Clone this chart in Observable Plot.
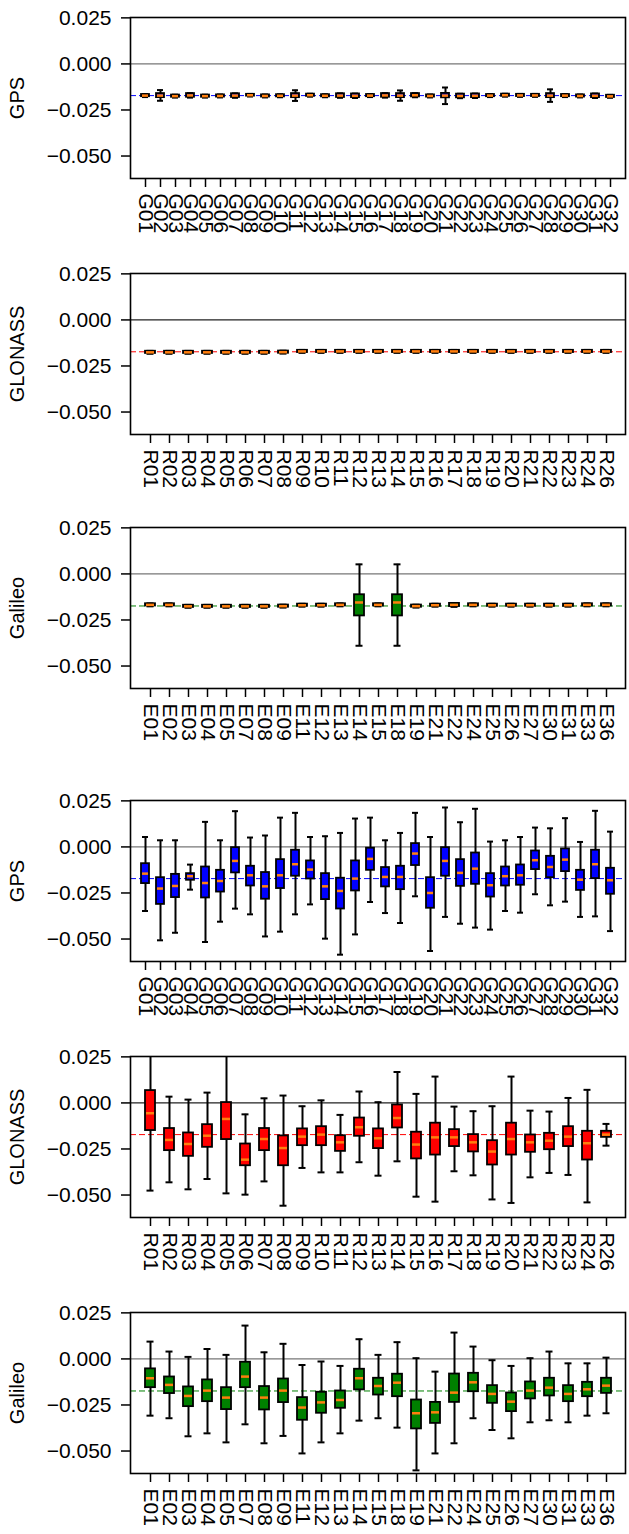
<!DOCTYPE html>
<html><head><meta charset="utf-8">
<script src="https://cdn.jsdelivr.net/npm/d3@7"></script>
<script src="https://cdn.jsdelivr.net/npm/@observablehq/plot@0.6"></script>
<style>
body{margin:0;background:#fff;overflow:hidden;}
#wrap{position:relative;width:629px;height:1534px;}
#wrap svg{position:absolute;left:0;}
</style></head><body><div id="wrap"></div>
<script>
// ---- categories ----
const satsGPS = ["G01","G02","G03","G04","G05","G06","G07","G08","G09","G10","G11","G12","G13","G14","G15","G16","G17","G18","G19","G20","G21","G22","G23","G24","G25","G26","G27","G28","G29","G30","G31","G32"];
const satsGLO = ["R01","R02","R03","R04","R05","R06","R07","R08","R09","R10","R11","R12","R13","R14","R15","R16","R17","R18","R19","R20","R21","R22","R23","R24","R26"];
const satsGAL = ["E01","E02","E03","E04","E05","E07","E08","E09","E11","E12","E13","E14","E15","E18","E19","E21","E22","E24","E25","E26","E27","E30","E31","E33","E36"];

// ---- panel 1: GPS (top group) ----
const p1Med = [-0.0172,-0.0172,-0.0175,-0.0171,-0.0175,-0.0174,-0.0172,-0.0170,-0.0174,-0.0173,-0.0172,-0.0170,-0.0173,-0.0172,-0.0173,-0.0172,-0.0171,-0.0172,-0.0170,-0.0174,-0.0172,-0.0174,-0.0173,-0.0172,-0.0170,-0.0171,-0.0171,-0.0172,-0.0172,-0.0174,-0.0173,-0.0176];
const p1Q3  = [-0.0166,-0.0161,-0.0169,-0.0161,-0.0169,-0.0168,-0.0162,-0.0165,-0.0168,-0.0167,-0.0161,-0.0164,-0.0167,-0.0162,-0.0163,-0.0166,-0.0161,-0.0161,-0.0161,-0.0168,-0.0160,-0.0164,-0.0163,-0.0166,-0.0164,-0.0165,-0.0165,-0.0161,-0.0166,-0.0168,-0.0163,-0.0170];
const p1Q1  = [-0.0178,-0.0183,-0.0181,-0.0181,-0.0181,-0.0180,-0.0182,-0.0175,-0.0180,-0.0179,-0.0183,-0.0176,-0.0179,-0.0182,-0.0183,-0.0178,-0.0181,-0.0183,-0.0179,-0.0180,-0.0184,-0.0184,-0.0183,-0.0178,-0.0176,-0.0177,-0.0177,-0.0183,-0.0178,-0.0180,-0.0183,-0.0182];
const p1Hi  = [-0.0164,-0.0142,-0.0167,-0.0159,-0.0167,-0.0166,-0.0160,-0.0163,-0.0166,-0.0165,-0.0143,-0.0162,-0.0165,-0.0160,-0.0161,-0.0164,-0.0159,-0.0144,-0.0159,-0.0166,-0.0128,-0.0162,-0.0161,-0.0164,-0.0162,-0.0163,-0.0163,-0.0138,-0.0164,-0.0166,-0.0161,-0.0168];
const p1Lo  = [-0.0180,-0.0200,-0.0183,-0.0183,-0.0183,-0.0182,-0.0184,-0.0177,-0.0182,-0.0181,-0.0201,-0.0178,-0.0181,-0.0184,-0.0185,-0.0180,-0.0183,-0.0200,-0.0181,-0.0182,-0.0218,-0.0186,-0.0185,-0.0180,-0.0178,-0.0179,-0.0179,-0.0206,-0.0180,-0.0182,-0.0185,-0.0184];

// ---- panel 2: GLONASS (top group) ----
const p2Med = [-0.0176,-0.0176,-0.0176,-0.0176,-0.0176,-0.0176,-0.0176,-0.0175,-0.0171,-0.0171,-0.0171,-0.0171,-0.0171,-0.0171,-0.0171,-0.0171,-0.0171,-0.0171,-0.0171,-0.0171,-0.0171,-0.0171,-0.0171,-0.0171,-0.0171];
const p2Q3  = [-0.0170,-0.0170,-0.0170,-0.0170,-0.0170,-0.0170,-0.0170,-0.0169,-0.0165,-0.0165,-0.0165,-0.0165,-0.0165,-0.0165,-0.0165,-0.0165,-0.0165,-0.0165,-0.0165,-0.0165,-0.0165,-0.0165,-0.0165,-0.0165,-0.0165];
const p2Q1  = [-0.0182,-0.0182,-0.0182,-0.0182,-0.0182,-0.0182,-0.0182,-0.0181,-0.0177,-0.0177,-0.0177,-0.0177,-0.0177,-0.0177,-0.0177,-0.0177,-0.0177,-0.0177,-0.0177,-0.0177,-0.0177,-0.0177,-0.0177,-0.0177,-0.0177];
const p2Hi  = [-0.0168,-0.0168,-0.0168,-0.0168,-0.0168,-0.0168,-0.0168,-0.0167,-0.0163,-0.0163,-0.0163,-0.0163,-0.0163,-0.0163,-0.0163,-0.0163,-0.0163,-0.0163,-0.0163,-0.0163,-0.0163,-0.0163,-0.0163,-0.0163,-0.0163];
const p2Lo  = [-0.0184,-0.0184,-0.0184,-0.0184,-0.0184,-0.0184,-0.0184,-0.0183,-0.0179,-0.0179,-0.0179,-0.0179,-0.0179,-0.0179,-0.0179,-0.0179,-0.0179,-0.0179,-0.0179,-0.0179,-0.0179,-0.0179,-0.0179,-0.0179,-0.0179];

// ---- panel 3: Galileo (top group) ----
const p3Med = [-0.0168,-0.0168,-0.0176,-0.0176,-0.0176,-0.0176,-0.0176,-0.0175,-0.0170,-0.0170,-0.0168,-0.0155,-0.0168,-0.0155,-0.0175,-0.0170,-0.0168,-0.0168,-0.0170,-0.0170,-0.0170,-0.0170,-0.0170,-0.0168,-0.0168];
const p3Q3  = [-0.0162,-0.0162,-0.0170,-0.0170,-0.0170,-0.0170,-0.0170,-0.0169,-0.0164,-0.0164,-0.0162,-0.0113,-0.0162,-0.0113,-0.0169,-0.0164,-0.0160,-0.0162,-0.0164,-0.0164,-0.0164,-0.0164,-0.0164,-0.0162,-0.0162];
const p3Q1  = [-0.0174,-0.0174,-0.0182,-0.0182,-0.0182,-0.0182,-0.0182,-0.0181,-0.0176,-0.0176,-0.0174,-0.0228,-0.0174,-0.0228,-0.0181,-0.0176,-0.0177,-0.0174,-0.0176,-0.0176,-0.0176,-0.0176,-0.0176,-0.0174,-0.0174];
const p3Hi  = [-0.0160,-0.0160,-0.0168,-0.0168,-0.0168,-0.0168,-0.0168,-0.0167,-0.0162,-0.0162,-0.0160, 0.0052,-0.0160, 0.0052,-0.0167,-0.0162,-0.0158,-0.0160,-0.0162,-0.0162,-0.0162,-0.0162,-0.0162,-0.0160,-0.0160];
const p3Lo  = [-0.0176,-0.0176,-0.0184,-0.0184,-0.0184,-0.0184,-0.0184,-0.0183,-0.0178,-0.0178,-0.0176,-0.0390,-0.0176,-0.0390,-0.0183,-0.0178,-0.0179,-0.0176,-0.0178,-0.0178,-0.0178,-0.0178,-0.0178,-0.0176,-0.0176];

// ---- panel 4: GPS (bottom group) ----
const p4Hi  = [0.0054,0.0036,0.0036,-0.0096,0.0136,0.0036,0.0194,0.0051,0.0062,0.0159,0.0185,0.0054,0.0058,0.0076,0.0154,0.0159,0.0036,0.0076,0.0185,0.0054,0.0214,0.0134,0.0207,0.0029,0.0036,0.0054,0.0105,0.0101,0.0156,0.0027,0.0196,0.0083];
const p4Q3  = [-0.0091,-0.0167,-0.0149,-0.0145,-0.0109,-0.0127,-0.0004,-0.0105,-0.0139,-0.0069,-0.0018,-0.0076,-0.0145,-0.0170,-0.0076,-0.0007,-0.0112,-0.0105,0.0018,-0.0167,-0.0004,-0.0069,-0.0033,-0.0145,-0.0109,-0.0098,-0.0022,-0.0051,-0.0011,-0.0127,-0.0018,-0.0116];
const p4Med = [-0.0145,-0.0226,-0.0212,-0.0159,-0.0196,-0.0185,-0.0076,-0.0154,-0.0214,-0.0154,-0.0094,-0.0123,-0.0214,-0.0239,-0.0172,-0.0065,-0.0163,-0.0163,-0.0036,-0.0250,-0.0076,-0.0141,-0.0118,-0.0208,-0.0159,-0.0154,-0.0072,-0.0109,-0.0069,-0.0178,-0.0094,-0.0181];
const p4Q1  = [-0.0199,-0.0312,-0.0275,-0.0181,-0.0277,-0.0245,-0.0141,-0.0212,-0.0284,-0.0226,-0.0159,-0.0174,-0.0286,-0.0337,-0.0239,-0.0127,-0.0217,-0.0232,-0.0101,-0.0333,-0.0159,-0.0214,-0.0203,-0.0272,-0.0212,-0.0208,-0.0123,-0.0167,-0.0134,-0.0236,-0.0172,-0.0257];
const p4Lo  = [-0.0348,-0.0507,-0.0466,-0.0232,-0.0516,-0.0406,-0.0335,-0.0366,-0.0486,-0.0460,-0.0366,-0.0312,-0.0498,-0.0585,-0.0475,-0.0299,-0.0359,-0.0413,-0.0268,-0.0565,-0.0380,-0.0417,-0.0438,-0.0449,-0.0348,-0.0357,-0.0257,-0.0317,-0.0297,-0.0380,-0.0377,-0.0457];

// ---- panel 5: GLONASS (bottom group) ----
const p5Hi  = [0.0300,0.0034,0.0018,0.0056,0.0300,-0.0062,0.0025,0.0040,-0.0018,0.0014,-0.0065,0.0062,0.0004,0.0168,0.0049,0.0143,-0.0020,-0.0045,-0.0018,0.0143,-0.0042,-0.0047,0.0027,0.0071,-0.0114];
const p5Q3  = [0.0067,-0.0139,-0.0163,-0.0118,0.0002,-0.0223,-0.0139,-0.0179,-0.0141,-0.0129,-0.0178,-0.0082,-0.0141,-0.0011,-0.0159,-0.0110,-0.0145,-0.0172,-0.0205,-0.0110,-0.0174,-0.0165,-0.0129,-0.0154,-0.0154];
const p5Med = [-0.0056,-0.0201,-0.0223,-0.0178,-0.0087,-0.0308,-0.0196,-0.0245,-0.0183,-0.0172,-0.0214,-0.0132,-0.0192,-0.0082,-0.0226,-0.0187,-0.0187,-0.0214,-0.0264,-0.0196,-0.0214,-0.0205,-0.0183,-0.0219,-0.0172];
const p5Q1  = [-0.0150,-0.0259,-0.0290,-0.0241,-0.0199,-0.0341,-0.0259,-0.0341,-0.0232,-0.0232,-0.0263,-0.0181,-0.0248,-0.0136,-0.0304,-0.0283,-0.0237,-0.0266,-0.0337,-0.0283,-0.0268,-0.0254,-0.0237,-0.0310,-0.0187];
const p5Lo  = [-0.0476,-0.0431,-0.0469,-0.0413,-0.0491,-0.0498,-0.0426,-0.0558,-0.0353,-0.0377,-0.0377,-0.0322,-0.0395,-0.0317,-0.0509,-0.0536,-0.0371,-0.0393,-0.0524,-0.0543,-0.0404,-0.0380,-0.0391,-0.0540,-0.0232];

// ---- panel 6: Galileo (bottom group) ----
const p6Hi  = [0.0094,0.0040,0.0011,0.0054,0.0022,0.0181,0.0036,0.0082,-0.0033,-0.0014,-0.0038,0.0107,0.0022,0.0091,0.0004,-0.0069,0.0143,0.0067,-0.0007,-0.0038,0.0004,0.0040,-0.0024,-0.0024,0.0007];
const p6Q3  = [-0.0054,-0.0098,-0.0152,-0.0114,-0.0156,-0.0018,-0.0150,-0.0109,-0.0210,-0.0181,-0.0174,-0.0056,-0.0105,-0.0083,-0.0223,-0.0236,-0.0082,-0.0078,-0.0145,-0.0185,-0.0125,-0.0105,-0.0145,-0.0127,-0.0105];
const p6Med = [-0.0105,-0.0141,-0.0201,-0.0172,-0.0210,-0.0096,-0.0210,-0.0172,-0.0264,-0.0236,-0.0223,-0.0105,-0.0147,-0.0129,-0.0295,-0.0290,-0.0183,-0.0127,-0.0190,-0.0232,-0.0172,-0.0156,-0.0190,-0.0165,-0.0145];
const p6Q1  = [-0.0156,-0.0188,-0.0259,-0.0232,-0.0275,-0.0156,-0.0277,-0.0237,-0.0333,-0.0295,-0.0268,-0.0168,-0.0196,-0.0205,-0.0380,-0.0350,-0.0236,-0.0178,-0.0241,-0.0286,-0.0217,-0.0201,-0.0232,-0.0205,-0.0187];
const p6Lo  = [-0.0308,-0.0322,-0.0420,-0.0404,-0.0453,-0.0355,-0.0458,-0.0418,-0.0513,-0.0453,-0.0404,-0.0335,-0.0322,-0.0373,-0.0605,-0.0513,-0.0458,-0.0322,-0.0386,-0.0431,-0.0344,-0.0333,-0.0344,-0.0308,-0.0295];

// ---- per-panel names and mean levels ----
const panelNames = ["GPS","GLONASS","Galileo","GPS","GLONASS","Galileo"];
const panelMeans = [-0.0172,-0.0173,-0.0174,-0.0172,-0.0172,-0.0174];
const yTicks = [0.025, 0, -0.025, -0.05];

// ---- build ----
const panels = [
  {sats: satsGPS, med: p1Med, q1: p1Q1, q3: p1Q3, lo: p1Lo, hi: p1Hi},
  {sats: satsGLO, med: p2Med, q1: p2Q1, q3: p2Q3, lo: p2Lo, hi: p2Hi},
  {sats: satsGAL, med: p3Med, q1: p3Q1, q3: p3Q3, lo: p3Lo, hi: p3Hi},
  {sats: satsGPS, med: p4Med, q1: p4Q1, q3: p4Q3, lo: p4Lo, hi: p4Hi},
  {sats: satsGLO, med: p5Med, q1: p5Q1, q3: p5Q3, lo: p5Lo, hi: p5Hi},
  {sats: satsGAL, med: p6Med, q1: p6Q1, q3: p6Q3, lo: p6Lo, hi: p6Hi}
];
const boxColors = ["#0000ff","#ff0000","#008000","#0000ff","#ff0000","#008000"];
const zeroColors = ["#777","#222","#777","#777","#222","#777"];
const svgTops = [0, 256, 510, 783, 1039, 1295];
const FONT = "'Liberation Sans', Arial, Helvetica, sans-serif";

const wrap = document.getElementById("wrap");
panels.forEach((p, k) => {
  const data = p.sats.map((s, i) => ({s, med: p.med[i], q1: p.q1[i], q3: p.q3[i], lo: p.lo[i], hi: p.hi[i]}));
  const capInset = p.sats.length > 30 ? 1 : 1.5;
  const svg = Plot.plot({
    width: 629, height: 256,
    marginLeft: 130, marginRight: 4, marginTop: 17, marginBottom: 78,
    style: {fontFamily: FONT, background: "white", color: "black", overflow: "visible"},
    x: {type: "band", domain: p.sats, paddingInner: 0.5, paddingOuter: 0.25, label: null, axis: null},
    y: {domain: [-0.0622, 0.0252], label: null, axis: null},
    marks: [
      Plot.ruleY([0], {stroke: zeroColors[k], strokeWidth: 1.2}),
      Plot.ruleY([panelMeans[k]], {stroke: boxColors[k], strokeDasharray: "6,3", strokeWidth: 1}),
      Plot.ruleX(data, {x: "s", y1: "lo", y2: "hi", stroke: "black", strokeWidth: 2, clip: true}),
      Plot.tickY(data, {x: "s", y: "lo", stroke: "black", strokeWidth: 2, insetLeft: capInset, insetRight: capInset, clip: true}),
      Plot.tickY(data, {x: "s", y: "hi", stroke: "black", strokeWidth: 2, insetLeft: capInset, insetRight: capInset, clip: true}),
      Plot.barY(data, {x: "s", y1: "q1", y2: "q3", fill: boxColors[k], stroke: "black", strokeWidth: 1.8}),
      Plot.tickY(data, {x: "s", y: "med", stroke: "#ff7f0e", strokeWidth: 2.5, insetLeft: 1, insetRight: 1}),
      Plot.frame({stroke: "black", strokeWidth: 1.6}),
      Plot.axisY({ticks: yTicks, tickFormat: d3.format(".3f"), tickSize: 9, tickPadding: 10, fontSize: 21, label: null, strokeWidth: 1.5}),
      Plot.axisX({tickSize: 9, tickFormat: () => "", label: null, strokeWidth: 1.5}),
      Plot.text(p.sats, {x: d => d, text: d => d, frameAnchor: "bottom", dy: 15, rotate: 90, textAnchor: "start", lineAnchor: "middle", fontSize: 21}),
      Plot.text([panelNames[k]], {frameAnchor: "left", text: d => d, dx: -113, rotate: -90, fontSize: 20, textAnchor: "middle", lineAnchor: "middle"})
    ]
  });
  svg.style.top = svgTops[k] + "px";
  wrap.appendChild(svg);
});
</script>
</body></html>
